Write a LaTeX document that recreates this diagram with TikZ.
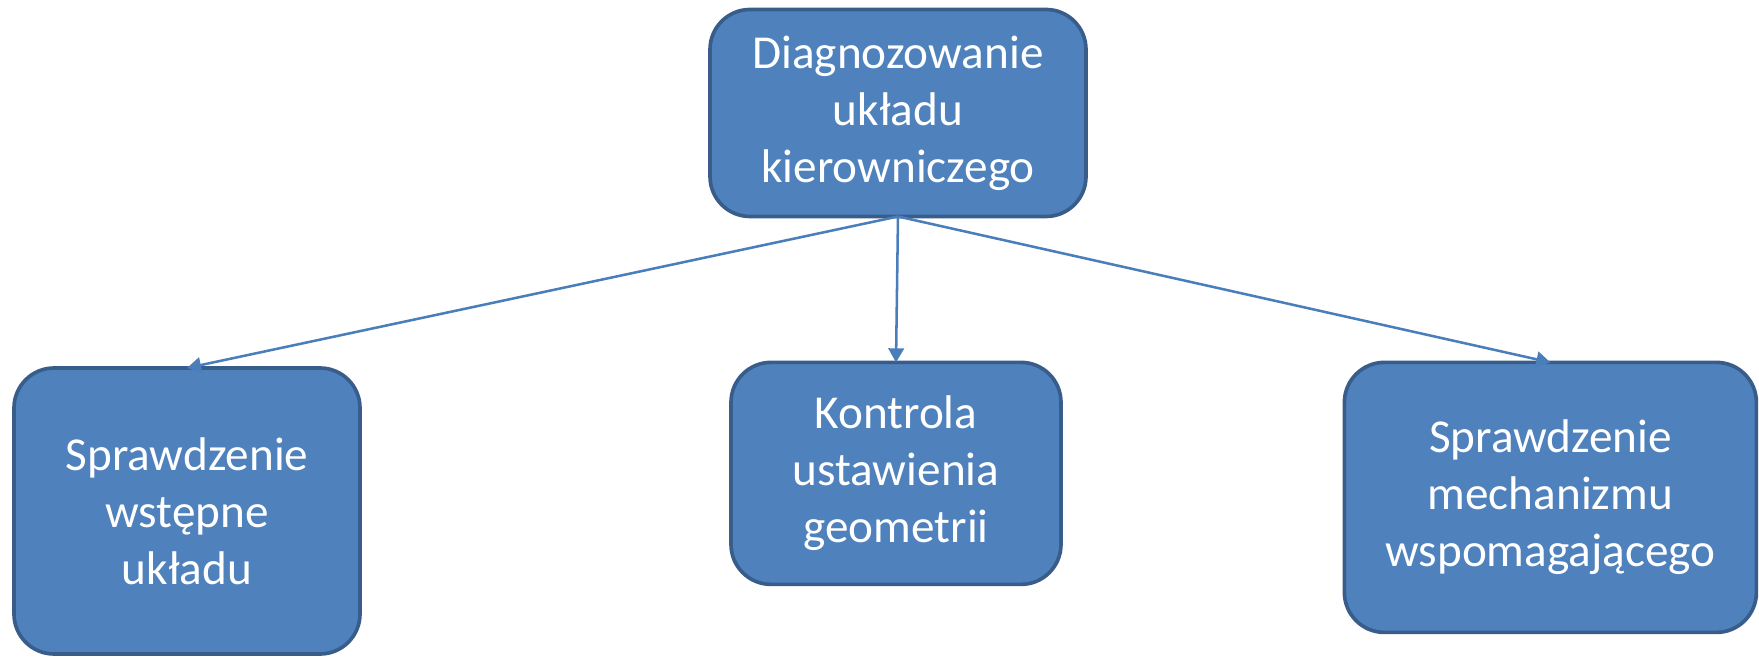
\documentclass[tikz,border=0pt]{standalone}
\usepackage{fontspec}
\setmainfont{Carlito}
\usetikzlibrary{arrows.meta}
\definecolor{boxfill}{HTML}{4F81BD}
\definecolor{boxline}{HTML}{385D8A}
\definecolor{arrowline}{HTML}{4A7EBB}
\begin{document}
\begin{tikzpicture}[
		box/.style={draw=boxline, line width=2.6pt, fill=boxfill, rounded corners=1cm, text=white, align=center, font=\fontsize{33.6}{40.5}\selectfont, inner sep=0pt, outer sep=0pt},
		link/.style={draw=arrowline, line width=1.8pt, -{Triangle[width=11pt, length=10pt]}}
	]
		\useasboundingbox (0,0) rectangle (43.975,16.425);
		\node[box, minimum width=9.4cm, minimum height=5.175cm] (diag) at (22.45,13.6) {Diagnozowanie\\układu\\kierowniczego};
		\node[box, minimum width=8.65cm, minimum height=7.15cm] (wstep) at (4.675,3.65) {Sprawdzenie\\wstępne\\układu};
		\node[box, minimum width=8.25cm, minimum height=5.55cm] (geom) at (22.4,4.59) {Kontrola\\ustawienia\\geometrii};
		\node[box, minimum width=10.3cm, minimum height=6.75cm] (mech) at (38.76,3.99) {Sprawdzenie\\mechanizmu\\wspomagającego};
		\draw[link] (diag.south) -- (wstep.north);
		\draw[link] (diag.south) -- (geom.north);
		\draw[link] (diag.south) -- (mech.north);
	\end{tikzpicture}
\end{document}
